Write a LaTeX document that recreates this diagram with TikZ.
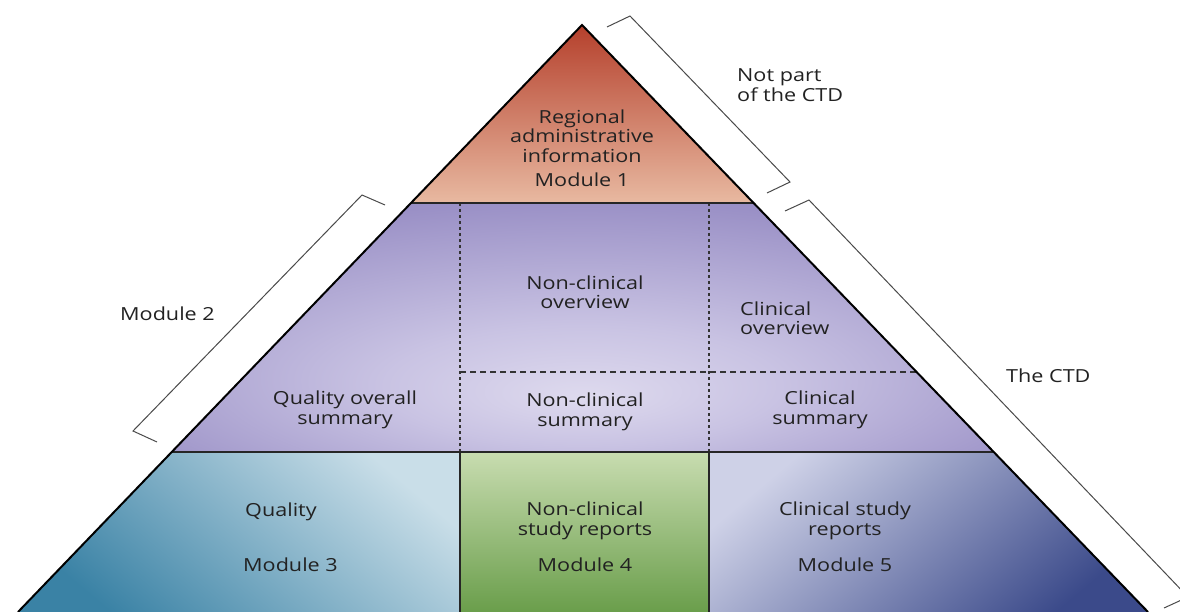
\documentclass[tikz,border=0pt]{standalone}
\usepackage{fontspec}
\setmainfont{Open Sans}[FakeStretch=1.2]
\usetikzlibrary{calc}
\definecolor{txt}{HTML}{222222}
\definecolor{redtop}{HTML}{B5402C}
\definecolor{redbot}{HTML}{E8B9A1}
\definecolor{lav}{HTML}{DEDAEE}
\definecolor{lavmid}{HTML}{C9C3E3}
\definecolor{purpm}{HTML}{9A90C6}
\definecolor{purp}{HTML}{7F72B4}
\definecolor{purpdark}{HTML}{6E5FA6}
\definecolor{tealdark}{HTML}{3A82A5}
\definecolor{tealmid}{HTML}{7DAFC8}
\definecolor{teallight}{HTML}{C9DEE8}
\definecolor{greenlight}{HTML}{C8DCB0}
\definecolor{greendark}{HTML}{6A9E4B}
\definecolor{navylight}{HTML}{CED1E7}
\definecolor{navydark}{HTML}{3B4A8A}
\definecolor{brk}{HTML}{4A4A4A}
\pgfdeclareradialshading{bandtwo}{\pgfpoint{0bp}{-14bp}}{color(0bp)=(lav); color(12bp)=(lavmid); color(33bp)=(purpm); color(52bp)=(purp); color(72bp)=(purpdark)}
\tikzset{
  lbl/.style={font=\fontsize{18}{19.5}\selectfont, text=txt, inner sep=0pt, align=center},
  lbll/.style={lbl, align=left, anchor=west},
  outline/.style={line width=2pt, black, line join=miter},
  sep/.style={line width=1.6pt, black!85},
  dotsep/.style={line width=1.6pt, black!80, dash pattern=on 3pt off 3pt},
  dashsep/.style={line width=1.4pt, black!80, dash pattern=on 6pt off 4pt},
  bracket/.style={line width=1pt, brk, line join=miter}
}
\begin{document}
\begin{tikzpicture}[x=1pt,y=-1pt]
\useasboundingbox (0,0) rectangle (1180,612);
\clip (0,0) rectangle (1180,612);
\fill[white] (0,0) rectangle (1180,612);
% key points
\coordinate (A) at (582,25);
\coordinate (BL) at (18,612);
\coordinate (BR) at (1148,612);
\coordinate (L1) at (411,203);
\coordinate (R1) at (753.6,203);
\coordinate (L2) at (171.7,452);
\coordinate (R2) at (993.7,452);
\coordinate (Rm) at (916.6,372);
\coordinate (V1t) at (460,203);
\coordinate (V2t) at (709,203);
\coordinate (V1m) at (460,452);
\coordinate (V2m) at (709,452);
\coordinate (V1b) at (460,612);
\coordinate (V2b) at (709,612);
\coordinate (V1h) at (460,372);
% fills
\shade[top color=redtop, bottom color=redbot] (A) -- (L1) -- (R1) -- cycle;
\shade[shading=bandtwo] (L1) -- (L2) -- (R2) -- (R1) -- cycle;
\shade[top color=teallight, middle color=tealmid, bottom color=tealdark, shading angle=-40] (L2) -- (BL) -- (V1b) -- (V1m) -- cycle;
\shade[top color=greenlight, bottom color=greendark] (V1m) rectangle (V2b);
\shade[top color=navylight, bottom color=navydark, shading angle=40] (V2m) -- (V2b) -- (BR) -- (R2) -- cycle;
% separators
\draw[dotsep] (V1t) -- (V1m);
\draw[dotsep] (V2t) -- (V2m);
\draw[dashsep] (V1h) -- (Rm);
\draw[sep] (V1m) -- (V1b);
\draw[sep] (V2m) -- (V2b);
\draw[sep] (L1) -- (R1);
\draw[sep] (L2) -- (R2);
\draw[outline] (BL) -- (A) -- (BR);
% brackets
\coordinate (b1a) at (607,27);
\coordinate (b1b) at (630,16);
\coordinate (b1c) at (790,182);
\coordinate (b1d) at (767,193);
\draw[bracket] (b1a) -- (b1b) -- (b1c) -- (b1d);
\coordinate (b2a) at (385,205);
\coordinate (b2b) at (362,195);
\coordinate (b2c) at (133,431);
\coordinate (b2d) at (157,442);
\draw[bracket] (b2a) -- (b2b) -- (b2c) -- (b2d);
\coordinate (b3a) at (785,211);
\coordinate (b3b) at (809,200);
\coordinate (b3c) at (1188,597);
\coordinate (b3d) at (1164,608);
\draw[bracket] (b3a) -- (b3b) -- (b3c) -- (b3d);
% labels
\node[lbl] (reg) at (582,136) {Regional\\administrative\\information};
\node[lbl] (mod1) at (582,180) {Module 1};
\node[lbll] (notpart) at (737,85) {Not part\\of the CTD};
\node[lbll] (mod2) at (120,314) {Module 2};
\node[lbl] (ncov) at (585,292) {Non-clinical\\overview};
\node[lbll] (clov) at (740,318) {Clinical\\overview};
\node[lbll] (thectd) at (1006,376) {The CTD};
\node[lbl] (qos) at (345,410) {Quality overall\\summary};
\node[lbl] (ncsum) at (585,412) {Non-clinical\\summary};
\node[lbl] (clsum) at (820,410) {Clinical\\summary};
\node[lbll] (quality) at (245,512) {Quality};
\node[lbll] (mod3) at (243,565) {Module 3};
\node[lbl] (ncsr) at (585,521) {Non-clinical\\study reports};
\node[lbl] (mod4) at (585,565) {Module 4};
\node[lbl] (csr) at (845,521) {Clinical study\\reports};
\node[lbl] (mod5) at (845,565) {Module 5};
\end{tikzpicture}
\end{document}
